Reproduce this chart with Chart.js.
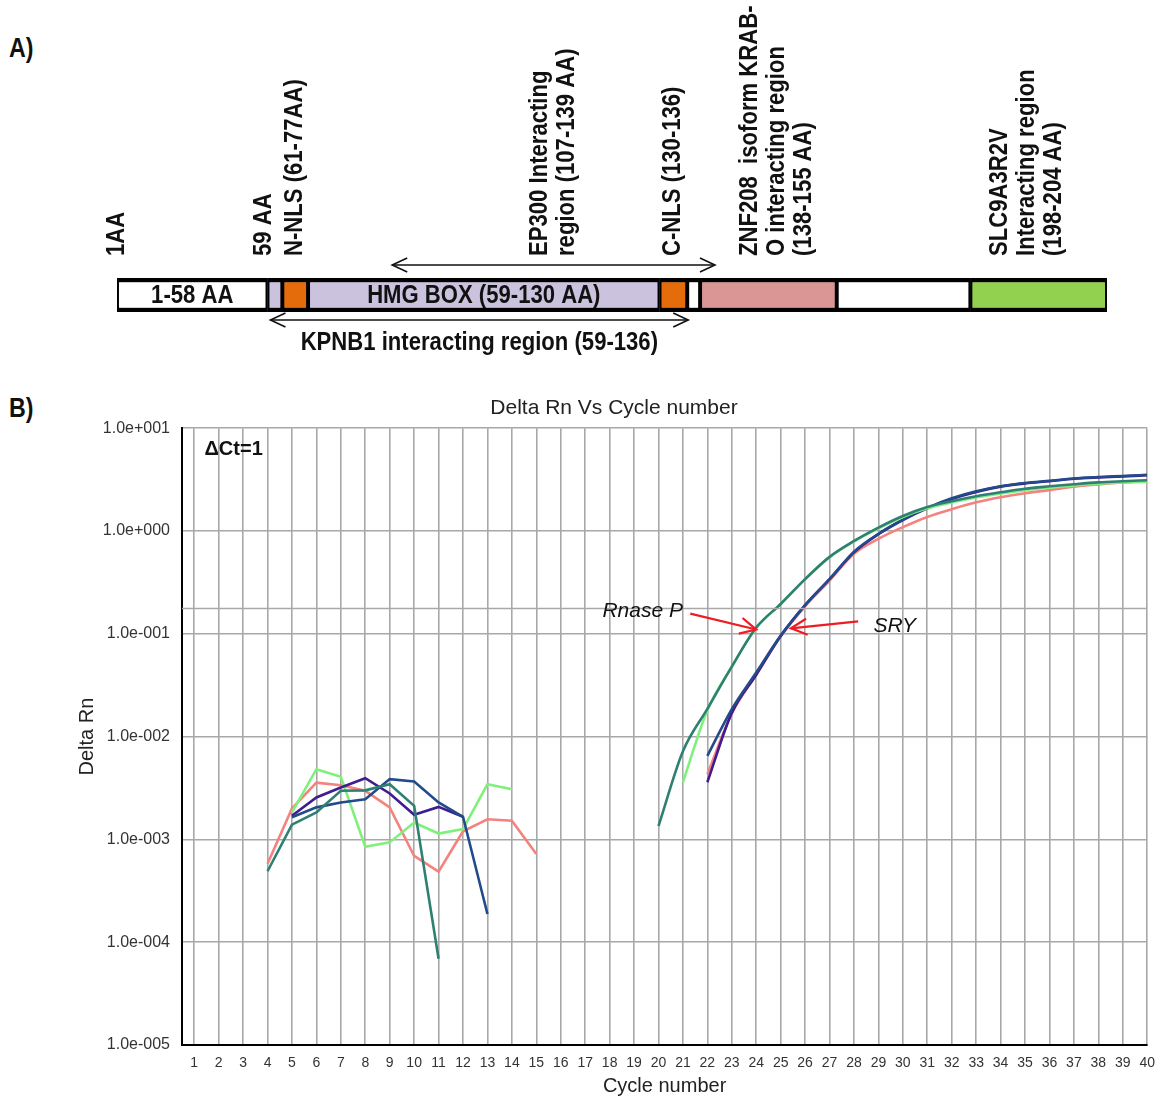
<!DOCTYPE html>
<html><head><meta charset="utf-8">
<script src="https://cdn.jsdelivr.net/npm/chart.js@4.4.1/dist/chart.umd.min.js"></script>
<style>
html,body{margin:0;padding:0;background:#fff;}
body{width:1165px;height:1100px;position:relative;overflow:hidden;font-family:"Liberation Sans",Arial,sans-serif;}
#cA{position:absolute;left:0;top:0;width:1165px;height:370px;}
#cB{position:absolute;left:63px;top:385px;width:1102px;height:715px;}
.panel{position:absolute;font-weight:bold;font-size:27px;line-height:27px;transform:scaleX(0.86);transform-origin:left top;color:#111;}
</style></head><body>
<div class="panel" style="left:9px;top:35px">A)</div>
<div class="panel" style="left:9px;top:395px">B)</div>
<canvas id="cA" width="1165" height="370"></canvas>
<canvas id="cB" width="1102" height="715"></canvas>
<script>
const FONT = '"Liberation Sans", Arial, Helvetica, sans-serif';
const _ = null;

// ---------------- Panel A data (schematic units 0..1000 along the protein bar) ----------------
const domainStart = [0, 152, 167, 193, 548, 576, 589, 727, 862];
const domainEnd   = [152, 167, 193, 548, 576, 589, 727, 862, 1000];
const domainText  = ['1-58 AA', '', '', 'HMG BOX (59-130 AA)', '', '', '', '', ''];
const siteText = [
  ['1AA'],
  ['59 AA'],
  ['N-NLS (61-77AA)'],
  ['EP300 Interacting', 'region (107-139 AA)'],
  ['C-NLS (130-136)'],
  ['ZNF208  isoform KRAB-', 'O interacting region', '(138-155 AA)'],
  ['SLC9A3R2V', 'Interacting region', '(198-204 AA)']
];
const sitePos = [0, 148, 180, 427, 561, 639, 892];
const spanFrom = [278, 155];
const spanTo   = [604, 577];
const spanText = ['', 'KPNB1 interacting region (59-136)'];

// ---------------- Panel B data ----------------
const cycles = [1,2,3,4,5,6,7,8,9,10,11,12,13,14,15,16,17,18,19,20,21,22,23,24,25,26,27,28,29,30,31,32,33,34,35,36,37,38,39,40];
const yTickValues = [1e-5, 1e-4, 1e-3, 1e-2, 1e-1, 1, 10];

// baseline noise (cycles 1..)
const tealNoise   = [_,_,_, 4.9e-4, 1.39e-3, 1.83e-3, 2.97e-3, 3.0e-3, 3.44e-3, 2.12e-3, 6.9e-5];
const navyNoise   = [_,_,_,_, 1.64e-3, 2.05e-3, 2.29e-3, 2.46e-3, 3.86e-3, 3.66e-3, 2.29e-3, 1.66e-3, 1.88e-4];
const purpleNoise = [_,_,_,_, 1.7e-3, 2.56e-3, 3.2e-3, 3.94e-3, 2.8e-3, 1.74e-3, 2.07e-3, 1.66e-3];
const greenNoise  = [_,_,_,_, 1.83e-3, 4.82e-3, 4.06e-3, 8.5e-4, 9.35e-4, 1.46e-3, 1.14e-3, 1.26e-3, 3.44e-3, 3.08e-3];
const pinkNoise   = [_,_,_, 5.8e-4, 2.0e-3, 3.57e-3, 3.36e-3, 2.97e-3, 2.05e-3, 6.9e-4, 4.85e-4, 1.2e-3, 1.57e-3, 1.52e-3, 7.2e-4];

// amplification curves (Rnase P: teal, green; SRY: navy, purple, pink)
const tealAmp = [_,_,_,_,_,_,_,_,_,_, /*11-19*/ _,_,_,_,_,_,_,_,_,
  /*20*/ 1.35e-3, 7.2e-3, 0.0186, 0.048, 0.115, 0.195, 0.34, 0.56, 0.80, 1.08,
  /*30*/ 1.40, 1.71, 1.95, 2.18, 2.38, 2.58, 2.72, 2.85, 2.97, 3.05, 3.12];
const greenAmp = [_,_,_,_,_,_,_,_,_,_, /*11-20*/ _,_,_,_,_,_,_,_,_,_,
  /*21*/ 3.6e-3, 0.0180, 0.048, 0.114, 0.195, 0.34, 0.555, 0.79, 1.06,
  /*30*/ 1.37, 1.66, 1.90, 2.12, 2.32, 2.50, 2.64, 2.77, 2.88, 2.96, 3.02];
const navyAmp = [_,_,_,_,_,_,_,_,_,_, /*11-21*/ _,_,_,_,_,_,_,_,_,_,_,
  /*22*/ 6.5e-3, 0.0185, 0.042, 0.096, 0.19, 0.34, 0.63, 0.94,
  /*30*/ 1.29, 1.68, 2.08, 2.43, 2.72, 2.93, 3.08, 3.24, 3.35, 3.43, 3.52];
const purpleAmp = [_,_,_,_,_,_,_,_,_,_, /*11-21*/ _,_,_,_,_,_,_,_,_,_,_,
  /*22*/ 3.6e-3, 0.0170, 0.040, 0.095, 0.19, 0.34, 0.62, 0.93,
  /*30*/ 1.28, 1.66, 2.05, 2.40, 2.70, 2.90, 3.05, 3.22, 3.32, 3.40, 3.48];
const pinkAmp = [_,_,_,_,_,_,_,_,_,_, /*11-21*/ _,_,_,_,_,_,_,_,_,_,_,
  /*22*/ 4.3e-3, 0.0168, 0.040, 0.094, 0.185, 0.33, 0.60, 0.84,
  /*30*/ 1.09, 1.37, 1.63, 1.90, 2.13, 2.33, 2.50, 2.70, 2.84, 2.96, 3.05];

// horizontal splice line of the original figure
const spliceX = [0.5, 40];
const spliceY = [0.176, 0.176];

// annotations
const noteText = ['\u0394Ct=1', 'Rnase P', 'SRY'];
const noteX = [1.42, 21.0, 28.8];
const noteY = [6.2, 0.165, 0.118];
const arrowFromX = [21.3, 28.17];
const arrowFromY = [0.157, 0.132];
const arrowToX   = [24.0, 25.42];
const arrowToY   = [0.110, 0.113];

// ---------------- styles ----------------
const domainColors = ['#ffffff', '#cbc3de', '#e46c0a', '#cbc3de', '#e46c0a', '#ffffff', '#d99694', '#ffffff', '#92d050'];
const COL = { teal: '#2f7f73', navy: '#234a8a', purple: '#3f1d8f', green: '#80f07c', pink: '#f4827e' };

function drawSq(ctx, t, x, y, rot, align, sq) {
  ctx.save(); ctx.translate(x, y); ctx.rotate(rot); ctx.scale(sq, 1);
  ctx.textAlign = align; ctx.fillText(t, 0, 0); ctx.restore();
}
function head(ctx, x, y, ang, len, half) {
  const c = Math.cos(ang), s = Math.sin(ang);
  ctx.beginPath();
  ctx.moveTo(x - len * c + half * s, y - len * s - half * c);
  ctx.lineTo(x, y);
  ctx.lineTo(x - len * c - half * s, y - len * s + half * c);
  ctx.stroke();
}

// ---------------- Panel A chart ----------------
const panelAPlugin = {
  id: 'panelA',
  afterDatasetsDraw(chart) {
    const ctx = chart.ctx, xs = chart.scales.x, ca = chart.chartArea;
    const sq = 0.85;
    ctx.save();
    ctx.fillStyle = '#111'; ctx.strokeStyle = '#111';
    ctx.font = 'bold 26px ' + FONT; ctx.textBaseline = 'middle';
    domainText.forEach((t, i) => {
      if (!t) return;
      const cx = xs.getPixelForValue((domainStart[i] + domainEnd[i]) / 2);
      drawSq(ctx, t, cx, (ca.top + ca.bottom) / 2 + 1, 0, 'center', sq);
    });
    siteText.forEach((lines, i) => {
      const x0 = xs.getPixelForValue(sitePos[i]);
      lines.forEach((t, j) => drawSq(ctx, t, x0 + j * 27, ca.top - 22, -Math.PI / 2, 'left', sq));
    });
    ctx.lineWidth = 1.6;
    spanFrom.forEach((f, i) => {
      const x1 = xs.getPixelForValue(f), x2 = xs.getPixelForValue(spanTo[i]);
      const y = i === 0 ? ca.top - 13 : ca.bottom + 8;
      ctx.beginPath(); ctx.moveTo(x1, y); ctx.lineTo(x2, y); ctx.stroke();
      head(ctx, x1, y, Math.PI, 15, 7);
      head(ctx, x2, y, 0, 15, 7);
      if (spanText[i]) drawSq(ctx, spanText[i], (x1 + x2) / 2, ca.bottom + 31, 0, 'center', sq);
    });
    ctx.restore();
  }
};

new Chart(document.getElementById('cA'), {
  type: 'bar',
  data: {
    labels: ['SRY'],
    datasets: domainStart.map((s, i) => ({
      data: [[s, domainEnd[i]]],
      backgroundColor: domainColors[i],
      borderColor: '#000',
      borderWidth: { top: 4.5, bottom: 4.5, left: 2.3, right: 2.3 },
      borderSkipped: false,
      grouped: false,
      barPercentage: 1,
      categoryPercentage: 1
    }))
  },
  options: {
    indexAxis: 'y', responsive: false, animation: false, events: [],
    layout: { padding: { left: 117, right: 58, top: 278, bottom: 58 } },
    plugins: { legend: { display: false }, tooltip: { enabled: false } },
    scales: {
      x: { type: 'linear', min: 0, max: 1000, display: false },
      y: { display: false }
    }
  },
  plugins: [panelAPlugin]
});

// ---------------- Panel B chart ----------------
const pts = arr => cycles.map((c, i) => ({ x: c, y: (arr[i] === undefined ? null : arr[i]) }));
function fmtExp(v) {
  const e = Math.round(Math.log10(v));
  return '1.0e' + (e < 0 ? '-' : '+') + String(Math.abs(e)).padStart(3, '0');
}
function lineDs(arr, color, smooth) {
  return { data: pts(arr), borderColor: color, borderWidth: 2.6, pointRadius: 0, fill: false,
           spanGaps: false, tension: 0, cubicInterpolationMode: smooth ? 'monotone' : 'default' };
}

const notesPlugin = {
  id: 'notes',
  afterDatasetsDraw(chart) {
    const ctx = chart.ctx, xs = chart.scales.x, ys = chart.scales.y;
    ctx.save();
    ctx.fillStyle = '#111'; ctx.textBaseline = 'middle';
    ctx.font = 'bold 20px ' + FONT; ctx.textAlign = 'left';
    ctx.fillText(noteText[0], xs.getPixelForValue(noteX[0]), ys.getPixelForValue(noteY[0]));
    ctx.font = 'italic 21px ' + FONT;
    ctx.textAlign = 'right';
    ctx.fillText(noteText[1], xs.getPixelForValue(noteX[1]), ys.getPixelForValue(noteY[1]));
    ctx.textAlign = 'left';
    ctx.fillText(noteText[2], xs.getPixelForValue(noteX[2]), ys.getPixelForValue(noteY[2]));
    ctx.strokeStyle = '#ee1c24'; ctx.lineWidth = 2.2;
    arrowFromX.forEach((fx, i) => {
      const x1 = xs.getPixelForValue(fx), y1 = ys.getPixelForValue(arrowFromY[i]);
      const x2 = xs.getPixelForValue(arrowToX[i]), y2 = ys.getPixelForValue(arrowToY[i]);
      ctx.beginPath(); ctx.moveTo(x1, y1); ctx.lineTo(x2, y2); ctx.stroke();
      head(ctx, x2, y2, Math.atan2(y2 - y1, x2 - x1), 16, 8);
    });
    ctx.restore();
  }
};

new Chart(document.getElementById('cB'), {
  type: 'line',
  data: {
    datasets: [
      { data: spliceX.map((x, i) => ({ x: x, y: spliceY[i] })), borderColor: '#a8a8a8', borderWidth: 1.6, pointRadius: 0 },
      lineDs(tealNoise, COL.teal, false),
      lineDs(navyNoise, COL.navy, false),
      lineDs(purpleNoise, COL.purple, false),
      lineDs(greenNoise, COL.green, false),
      lineDs(pinkNoise, COL.pink, false),
      lineDs(tealAmp, COL.teal, true),
      lineDs(greenAmp, COL.green, true),
      lineDs(navyAmp, COL.navy, true),
      lineDs(purpleAmp, COL.purple, true),
      lineDs(pinkAmp, COL.pink, true)
    ]
  },
  options: {
    responsive: false, animation: false, events: [],
    layout: { padding: { left: 8, right: 8, top: 0, bottom: 0 } },
    plugins: {
      legend: { display: false }, tooltip: { enabled: false },
      title: { display: true, text: 'Delta Rn Vs Cycle number', color: '#222',
               font: { family: FONT, size: 21, weight: 'normal' }, padding: { top: 11, bottom: 7 } }
    },
    scales: {
      x: {
        type: 'linear', min: 0.5, max: 40,
        afterBuildTicks: s => { s.ticks = cycles.map(v => ({ value: v })); },
        afterFit: s => { s.height = 55; },
        ticks: { font: { family: FONT, size: 14 }, color: '#333', padding: 10, autoSkip: false, maxRotation: 0,
                 callback: v => String(v) },
        grid: { color: '#a8a8a8', lineWidth: 1.6, drawTicks: false },
        border: { display: true, color: '#000', width: 2 },
        title: { display: true, text: 'Cycle number', color: '#222',
                 font: { family: FONT, size: 20 }, padding: { top: 0, bottom: 2 } }
      },
      y: {
        type: 'logarithmic', min: 1e-5, max: 10,
        afterBuildTicks: s => { s.ticks = yTickValues.map(v => ({ value: v })); },
        afterFit: s => { s.width = 111; },
        ticks: { font: { family: FONT, size: 16 }, color: '#333', padding: 12, autoSkip: false,
                 callback: v => fmtExp(v) },
        grid: { color: '#a8a8a8', lineWidth: 1.6, drawTicks: false },
        border: { display: true, color: '#000', width: 2 },
        title: { display: true, text: 'Delta Rn', color: '#222',
                 font: { family: FONT, size: 20 }, padding: { top: 4, bottom: 0 } }
      }
    }
  },
  plugins: [notesPlugin]
});
</script>
</body></html>
